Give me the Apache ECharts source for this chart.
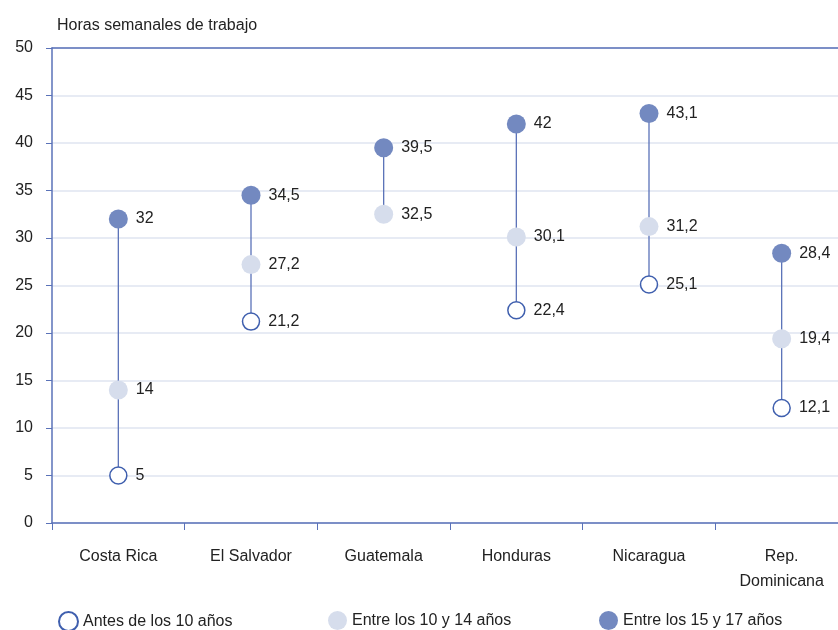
<!DOCTYPE html>
<html>
<head>
<meta charset="utf-8">
<script src="https://cdn.jsdelivr.net/npm/echarts@6/dist/echarts.min.js"></script>
<style>
  html, body { margin: 0; padding: 0; background: #fff; }
  #chart { width: 838px; height: 630px; }
</style>
</head>
<body>
<div id="chart"></div>
<script>
const categories = ['Costa Rica', 'El Salvador', 'Guatemala', 'Honduras', 'Nicaragua', 'Rep.\nDominicana'];
const seriesNames = ['Antes de los 10 años', 'Entre los 10 y 14 años', 'Entre los 15 y 17 años'];
const antes10 = [5, 21.2, null, 22.4, 25.1, 12.1];
const entre10y14 = [14, 27.2, 32.5, 30.1, 31.2, 19.4];
const entre15y17 = [32, 34.5, 39.5, 42, 43.1, 28.4];
const yTicks = [0, 5, 10, 15, 20, 25, 30, 35, 40, 45, 50];

const axisBlue = '#5a72b8';
const darkDot = '#7389c0';
const lightDot = '#d6ddec';
const fontFam = '"Liberation Sans", Arial, sans-serif';

const chart = echarts.init(document.getElementById('chart'));

// min/max per country for the connecting stems
const ranges = categories.map((c, i) => {
    const vals = [antes10[i], entre10y14[i], entre15y17[i]].filter(v => v != null);
    return [i, Math.min(...vals), Math.max(...vals)];
});

const fmt = p => String(p.value).replace('.', ',');

const dotLabel = {
    show: true,
    position: 'right',
    distance: 8,
    color: '#222',
    fontSize: 16,
    fontFamily: fontFam,
    formatter: fmt
};

function legendAt(left, name) {
    return {
        left: left,
        top: 606,
        data: [name],
        itemWidth: 19,
        itemHeight: 19,
        itemGap: 6,
        textStyle: { fontSize: 16, color: '#222', fontFamily: fontFam }
    };
}

const option = {
    backgroundColor: '#fff',
    animation: false,
    textStyle: { fontFamily: fontFam },
    title: {
        text: 'Horas semanales de trabajo',
        left: 52,
        top: 13,
        textStyle: { fontSize: 16, fontWeight: 'normal', color: '#222', fontFamily: fontFam }
    },
    legend: [
        legendAt(53, seriesNames[0]),
        legendAt(323, seriesNames[1]),
        legendAt(594, seriesNames[2])
    ],
    grid: { left: 52, width: 796, top: 48, height: 475, outerBoundsMode: 'none' },
    xAxis: [{
        type: 'category',
        data: categories,
        axisLine: { lineStyle: { color: axisBlue, width: 1.5 } },
        axisTick: { show: true, length: 7, lineStyle: { color: axisBlue } },
        axisLabel: { color: '#222', fontSize: 16, margin: 21, lineHeight: 25, fontFamily: fontFam }
    }, {
        type: 'category',
        position: 'top',
        data: categories,
        axisLine: { lineStyle: { color: axisBlue, width: 1.5 } },
        axisTick: { show: false },
        axisLabel: { show: false }
    }],
    yAxis: {
        type: 'value',
        min: 0,
        max: 50,
        interval: 5,
        axisLine: { show: true, lineStyle: { color: axisBlue, width: 1.5 } },
        axisTick: { show: true, length: 6, lineStyle: { color: axisBlue } },
        axisLabel: {
            color: '#222', fontSize: 16, margin: 19, fontFamily: fontFam,
            formatter: v => yTicks.includes(v) ? String(v) : ''
        },
        splitLine: { lineStyle: { color: '#dfe5f1', width: 1.5 } }
    },
    series: [
        {
            type: 'custom',
            silent: true,
            z: 1,
            data: ranges,
            renderItem: (params, api) => {
                const p1 = api.coord([api.value(0), api.value(1)]);
                const p2 = api.coord([api.value(0), api.value(2)]);
                return {
                    type: 'line',
                    shape: { x1: p1[0], y1: p1[1], x2: p2[0], y2: p2[1] },
                    style: { stroke: axisBlue, lineWidth: 1.3 }
                };
            }
        },
        {
            name: seriesNames[0],
            type: 'scatter',
            z: 3,
            data: antes10,
            symbol: 'circle',
            symbolSize: 17,
            itemStyle: { color: '#fff', borderColor: '#3f5fae', borderWidth: 1.5, opacity: 1 },
            label: dotLabel
        },
        {
            name: seriesNames[1],
            type: 'scatter',
            z: 3,
            data: entre10y14,
            symbol: 'circle',
            symbolSize: 19,
            itemStyle: { color: lightDot, opacity: 1 },
            label: dotLabel
        },
        {
            name: seriesNames[2],
            type: 'scatter',
            z: 3,
            data: entre15y17,
            symbol: 'circle',
            symbolSize: 19,
            itemStyle: { color: darkDot, opacity: 1 },
            label: dotLabel
        }
    ]
};

chart.setOption(option);
</script>
</body>
</html>
